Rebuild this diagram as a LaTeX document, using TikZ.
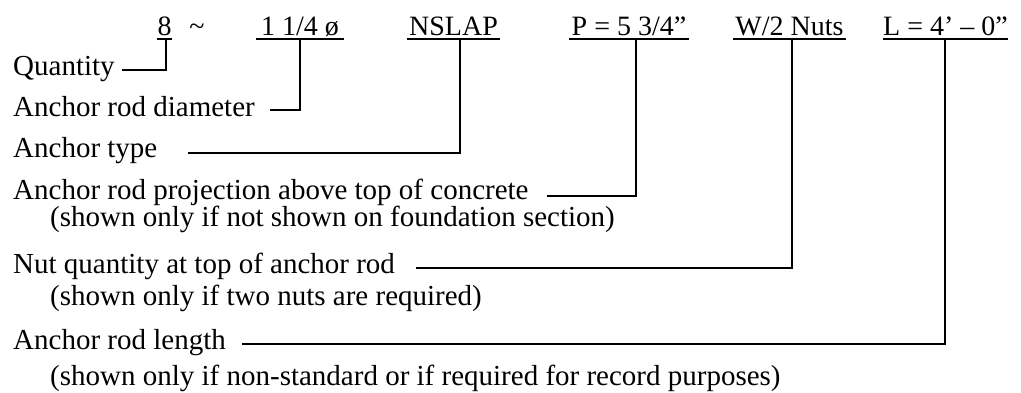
\documentclass[tikz,border=0pt]{standalone}
\usepackage{fontspec}
\setmainfont{Liberation Serif}
\begin{document}
\begin{tikzpicture}[x=1pt,y=-1pt,
  toptext/.style={anchor=base,inner xsep=0pt,inner ysep=0pt,font=\fontsize{28}{30}\selectfont},
  lbl/.style={anchor=base west,inner sep=0pt,font=\fontsize{29}{31}\selectfont},
  ul/.style={line width=1.5pt},
  conn/.style={line width=1.4pt}]
\useasboundingbox (0,0) rectangle (1021,392);
% top row
\node[toptext,minimum width=15pt] (t8) at (164.5,35) {8};
\node[toptext] (tt) at (197,35) {\char`\~};
\node[toptext,minimum width=88pt] (tdia) at (300,35) {1 1/4 ø};
\node[toptext,minimum width=93pt] (tns) at (453.5,35) {NSLAP};
\node[toptext,minimum width=120pt] (tp) at (629,35) {P = 5 3/4”};
\node[toptext,minimum width=113pt] (tw) at (789.5,35) {W/2 Nuts};
\node[toptext,minimum width=123pt] (tl) at (945.5,35) {L = 4’ – 0”};
\foreach \n in {t8,tdia,tns,tp,tw,tl}{
  \draw[ul] ([yshift=-4pt]\n.base west) -- ([yshift=-4pt]\n.base east);
}
% left labels
\node[lbl] (lq) at (13,75) {Quantity};
\node[lbl] (ld) at (13,116) {Anchor rod diameter};
\node[lbl] (lt) at (13,157) {Anchor type};
\node[lbl] (lp) at (13,199) {Anchor rod projection above top of concrete};
\node[lbl] (np) at (50,226) {(shown only if not shown on foundation section)};
\node[lbl] (ln) at (13,273) {Nut quantity at top of anchor rod};
\node[lbl] (nn) at (50,305) {(shown only if two nuts are required)};
\node[lbl] (ll) at (13,349) {Anchor rod length};
\node[lbl] (nl) at (50,385) {(shown only if non-standard or if required for record purposes)};
% connector start points
\coordinate (cq) at (122,70);
\coordinate (cd) at (270,110);
\coordinate (ct) at (188,153);
\coordinate (cp) at (547,196);
\coordinate (cn) at (416,268);
\coordinate (cl) at (242,344);
\draw[conn] (cq) -| ([xshift=1.5pt,yshift=-4pt]t8.base);
\draw[conn] (cd) -| ([yshift=-4pt]tdia.base);
\draw[conn] (ct) -| ([xshift=6.5pt,yshift=-4pt]tns.base);
\draw[conn] (cp) -| ([xshift=7pt,yshift=-4pt]tp.base);
\draw[conn] (cn) -| ([xshift=2.5pt,yshift=-4pt]tw.base);
\draw[conn] (cl) -| ([xshift=-0.5pt,yshift=-4pt]tl.base);
\end{tikzpicture}
\end{document}
